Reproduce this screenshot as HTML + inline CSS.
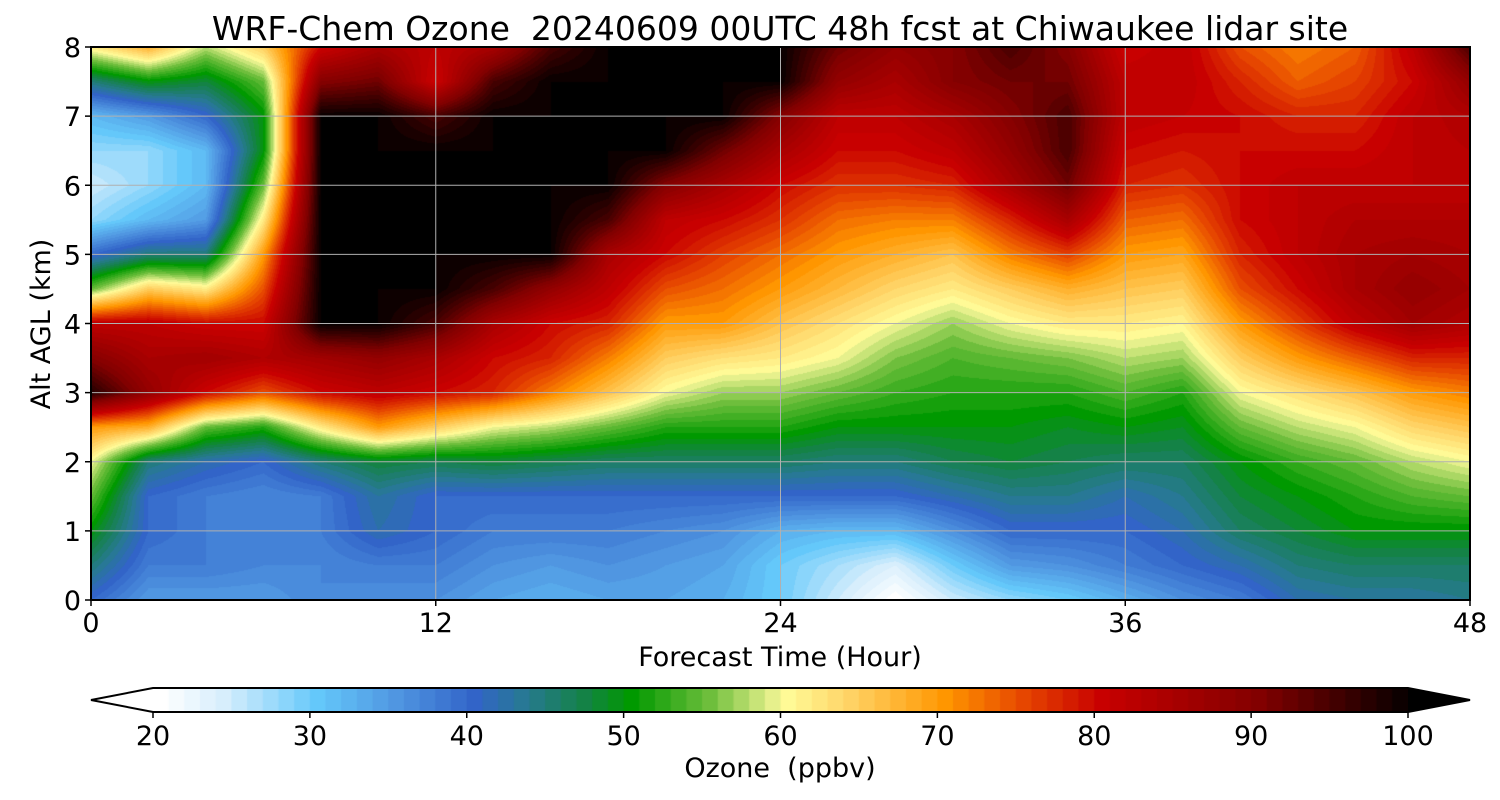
<!DOCTYPE html>
<html><head><meta charset="utf-8">
<style>
body{margin:0;background:#fff;width:1500px;height:800px;overflow:hidden;font-family:"DejaVu Sans","Liberation Sans",sans-serif;}
#wrap{position:relative;width:1500px;height:800px;}
canvas{position:absolute;}
svg{position:absolute;left:0;top:0;font-family:"DejaVu Sans","Liberation Sans",sans-serif;}
svg text{white-space:pre;}
</style></head>
<body>
<div id="wrap">
<canvas id="field" width="1379" height="553" style="left:91px;top:47px"></canvas>
<canvas id="cbar" width="1255" height="24" style="left:153px;top:688px"></canvas>
<svg id="ov" width="1500" height="800"></svg>
</div>
<script>
const hours=[0,2,4,6,8,10,12,14,16,18,20,22,24,26,28,30,32,34,36,38,40,42,44,46,48];
const alts=[0,0.5,1,1.5,2,2.5,3,3.5,4,4.5,5,5.5,6,6.5,7,7.5,8];
const xTicks=[0,12,24,36,48];
const yTicks=[0,1,2,3,4,5,6,7,8];
const cbTicks=[20,30,40,50,60,70,80,90,100];
// ozone (ppbv), one array per forecast hour, from 0 km to 8 km
const ozone=[
[40,45,50,55,60,70,98,90,82,55,40,28,25,28,32,45,62],
[35,38,40,40,45,68,88,85,82,65,45,32,28,28,35,50,68],
[35,38,38,38,42,55,80,86,80,62,45,35,32,32,40,48,58],
[35,37,37,37,40,52,75,84,80,75,70,62,55,50,50,55,65],
[37,37,38,38,45,62,80,86,100,100,100,100,100,100,100,90,80],
[36,38,42,43,48,70,82,88,100,100,100,100,100,100,100,92,85],
[36,38,40,40,47,65,80,85,95,100,100,100,100,100,95,80,82],
[34,36,38,40,48,60,78,80,85,95,100,100,100,100,100,95,85],
[33,35,38,40,47,58,72,78,80,88,100,100,100,100,100,100,95],
[34,36,38,40,46,55,66,72,78,82,85,95,100,100,100,100,100],
[34,35,37,40,46,52,60,65,70,75,80,82,90,100,100,100,100],
[33,34,36,40,46,52,57,63,70,73,76,80,85,92,100,100,100],
[30,30,33,40,46,52,57,62,66,70,73,77,80,85,90,100,100],
[25,27,32,40,45,50,55,60,63,67,70,73,77,80,82,88,92],
[20,24,32,40,45,50,53,56,60,64,68,72,77,80,82,85,88],
[25,30,36,42,47,50,52,54,57,62,66,72,78,82,85,90,90],
[28,35,40,44,48,50,52,55,60,65,72,78,85,88,90,92,95],
[30,36,40,44,47,49,52,56,62,68,76,85,92,95,95,92,90],
[33,38,40,42,46,50,54,58,62,66,70,74,78,80,82,82,80],
[36,40,42,44,46,49,52,57,61,65,69,73,77,79,81,82,82],
[38,42,46,48,50,55,60,65,70,75,78,80,80,80,80,78,75],
[42,45,48,50,53,58,63,70,76,80,82,82,82,80,78,74,72],
[43,46,50,52,55,60,66,74,82,85,85,84,82,80,78,76,74],
[43,46,50,54,58,64,70,78,86,88,86,84,82,82,82,80,82],
[44,46,50,55,60,66,72,78,84,86,85,84,82,83,84,88,95]
];
const stops=[[20,[255,255,255]],[24,[215,238,252]],[30,[100,200,250]],[35,[80,150,225]],[40,[50,100,200]],[43,[40,120,150]],[47,[20,130,70]],[50,[0,153,0]],[55,[110,190,60]],[59,[230,240,140]],[60,[255,250,150]],[64,[255,210,100]],[70,[255,150,0]],[75,[230,70,0]],[80,[200,0,0]],[90,[130,0,0]],[100,[0,0,0]]];
function cmap(v){
  v=Math.floor(v); if(v<20)v=20; if(v>100)v=100;
  for(let i=1;i<stops.length;i++){ if(v<=stops[i][0]){const a=stops[i-1],b=stops[i];const t=(v-a[0])/(b[0]-a[0]);return a[1].map((c,k)=>Math.round(c+(b[1][k]-c)*t));}}
  return [0,0,0];
}
const PX0=91,PY0=47,PW=1379,PH=553;
const xs=h=>PX0+h/48*PW, ys=a=>PY0+PH-a/8*PH;
const cbx=v=>153+(v-20)/80*1255;
function sample(h,a){
  let i=Math.min(hours.length-2,Math.floor(h/(hours[1]-hours[0])));let tx=(h-hours[i])/(hours[i+1]-hours[i]);
  let j=Math.min(alts.length-2,Math.floor(a/(alts[1]-alts[0])));let ty=(a-alts[j])/(alts[j+1]-alts[j]);
  const v00=ozone[i][j],v10=ozone[i+1][j],v01=ozone[i][j+1],v11=ozone[i+1][j+1];
  return (v00*(1-tx)+v10*tx)*(1-ty)+(v01*(1-tx)+v11*tx)*ty;
}
const ctx=document.getElementById('field').getContext('2d');
const img=ctx.createImageData(PW,PH);
for(let y=0;y<PH;y++){const a=(PH-y-0.5)/PH*8;for(let x=0;x<PW;x++){const h=(x+0.5)/PW*48;const c=cmap(sample(h,a));const o=(y*PW+x)*4;img.data[o]=c[0];img.data[o+1]=c[1];img.data[o+2]=c[2];img.data[o+3]=255;}}
ctx.putImageData(img,0,0);
const cc=document.getElementById('cbar').getContext('2d');
for(let v=20;v<100;v++){const c=cmap(v);cc.fillStyle=`rgb(${c})`;cc.fillRect(cbx(v)-153,0,cbx(v+1)-cbx(v)+1,24);}
const svg=document.getElementById('ov');const NS='http://www.w3.org/2000/svg';
function el(t,at,txt){const e=document.createElementNS(NS,t);for(const k in at)e.setAttribute(k,at[k]);if(txt!==undefined)e.textContent=txt;svg.appendChild(e);return e;}
xTicks.forEach(t=>{const x=xs(t);
 const g=el('line',{x1:x,x2:x,y1:PY0,y2:PY0+PH,stroke:'#b0b0b0','stroke-width':1});
 
 
 el('line',{x1:x,x2:x,y1:PY0+PH,y2:PY0+PH+6,stroke:'#000','stroke-width':1.5});
 const l=el('text',{x:x,y:632,'font-size':27,'text-anchor':'middle'},t);
 
 });
yTicks.forEach(t=>{const y=ys(t);
 const g=el('line',{x1:PX0,x2:PX0+PW,y1:y,y2:y,stroke:'#b0b0b0','stroke-width':1});
 
 
 el('line',{x1:PX0-6,x2:PX0,y1:y,y2:y,stroke:'#000','stroke-width':1.5});
 const l=el('text',{x:PX0-10,y:y+10,'font-size':27,'text-anchor':'end'},t);
 
 });
el('rect',{x:PX0,y:PY0,width:PW,height:PH,fill:'none',stroke:'#000','stroke-width':2});
const tt=el('text',{x:780,y:40,'font-size':33,'text-anchor':'middle'},'WRF-Chem Ozone  20240609 00UTC 48h fcst at Chiwaukee lidar site');

const xl=el('text',{x:780,y:666,'font-size':27,'text-anchor':'middle'},'Forecast Time (Hour)');

const yl=el('text',{x:50,y:324,'font-size':27,'text-anchor':'middle',transform:'rotate(-90 50 324)'},'Alt AGL (km)');

const lt=el('polygon',{points:'153,688 91,700 153,712',fill:'#fff'});

const rt=el('polygon',{points:'1408,688 1470,700 1408,712',fill:'#000'});

el('polygon',{points:'153,688 1408,688 1470,700 1408,712 153,712 91,700',fill:'none',stroke:'#000','stroke-width':2});
cbTicks.forEach(t=>{const x=cbx(t);
 el('line',{x1:x,x2:x,y1:712,y2:718,stroke:'#000','stroke-width':1.5});
 const l=el('text',{x:x,y:745,'font-size':27,'text-anchor':'middle'},t);
 
 });
const cl=el('text',{x:780,y:777,'font-size':27,'text-anchor':'middle'},'Ozone  (ppbv)');

</script>
</body></html>
